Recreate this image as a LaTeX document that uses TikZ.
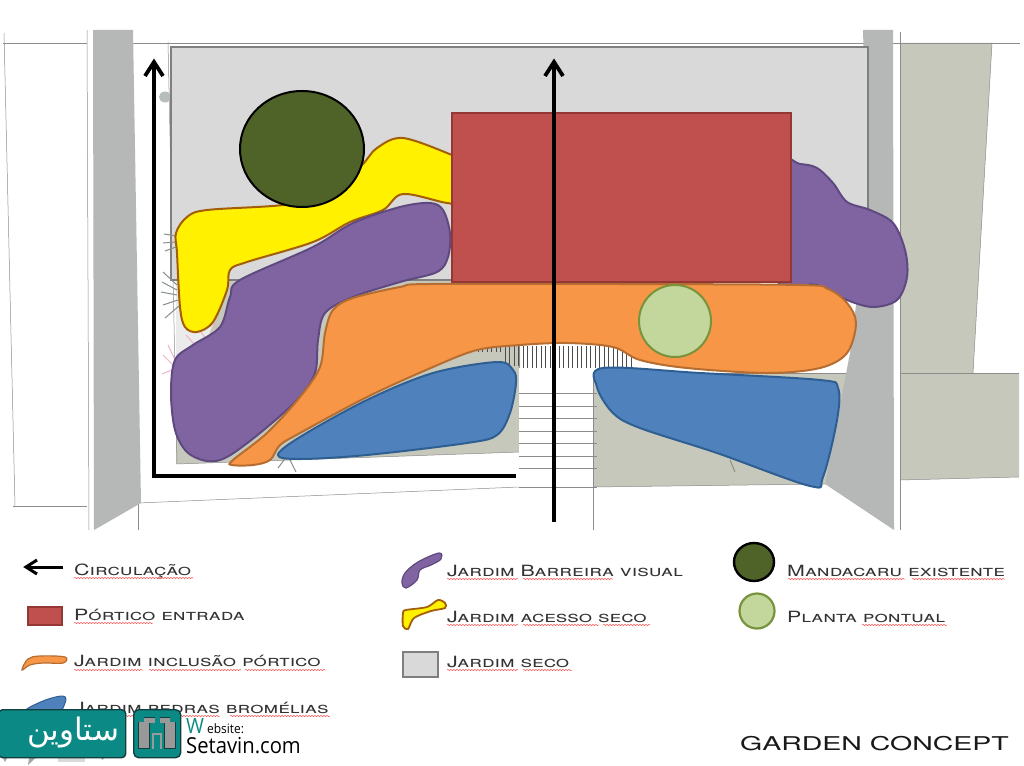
\documentclass[tikz,border=0pt]{standalone}
\usepackage{fontspec}
\usepackage{tikz}
\usetikzlibrary{decorations.pathmorphing}

\TeXXeTstate=1
\newfontfamily\arabicfont[Script=Arabic]{DejaVu Sans}
\newfontfamily\legendfont[Letters=SmallCaps,FakeStretch=1.38]{TeX Gyre Heros}
\newfontfamily\titlefont[FakeStretch=1.5]{TeX Gyre Heros}
\newfontfamily\markfont[FakeStretch=0.92]{Open Sans}

\definecolor{wallgray}{HTML}{B6B7B7}
\definecolor{sage}{HTML}{C5C8BB}
\definecolor{dryfill}{HTML}{D9D9D9}
\definecolor{dryline}{HTML}{7F7F7F}
\definecolor{redfill}{HTML}{C0504D}
\definecolor{redline}{HTML}{953735}
\definecolor{purplefill}{HTML}{8064A2}
\definecolor{purpleline}{HTML}{5F4A80}
\definecolor{yellowfill}{HTML}{FFF100}
\definecolor{yellowline}{HTML}{A35F08}
\definecolor{orangefill}{HTML}{F79646}
\definecolor{orangeline}{HTML}{B66D31}
\definecolor{bluefill}{HTML}{4F81BD}
\definecolor{blueline}{HTML}{2F5F92}
\definecolor{darkgreen}{HTML}{4F6228}
\definecolor{lightgreen}{HTML}{C3D69B}
\definecolor{lightgreenline}{HTML}{77933C}
\definecolor{markteal}{HTML}{0B8A85}
\definecolor{markline}{HTML}{123F3E}
\definecolor{plantgray}{HTML}{87918A}

\tikzset{
  sketch/.style={draw=black!45, line width=0.5pt},
  route/.style={line width=3.8pt},
  bed/.style={line width=2pt},
  legendtext/.style={anchor=base west, inner sep=0pt, text=black!80, font=\legendfont\fontsize{15.5}{15.5}\selectfont},
  spell/.style={draw=red!65, line width=0.5pt, decorate, decoration={snake,amplitude=0.7pt,segment length=3pt}},
  tuft/.style={draw=plantgray, line width=1pt},
  pinktuft/.style={draw=purple!30, line width=1pt},
  logoedge/.style={draw=markline, line width=11.4pt},
  logopart/.style={draw=black!40, line width=10pt},
}

\begin{document}
\begin{tikzpicture}[x=1pt,y=-1pt]
  \useasboundingbox[fill=white] (0,0) rectangle (1024,765);

  % ground
  \fill[sage] (900,43) -- (992,43) -- (973,373) -- (1019,373) -- (1019,477) -- (900,480) -- cycle;
  \fill[sage] (176,280) -- (520,280) -- (520,452) -- (176,464) -- cycle;
  \fill[sage] (593,373) -- (850,373) -- (825,484) -- (593,487) -- cycle;
  \fill[black!8] (176,280) -- (230,280) -- (205,345) -- (176,372) -- cycle;

  % sketch lines
  \draw[sketch] (3,43) -- (87,43);
  \draw[sketch] (4,33) -- (15,507);
  \draw[sketch] (13,506) -- (87,506);
  \draw[sketch] (87,30) -- (89,530);
  \draw[sketch] (130,43) -- (1020,43);
  \draw[sketch] (168,42) -- (177,464);
  \draw[sketch] (138,503) -- (519,487);
  \draw[sketch] (138,503) -- (138,530);
  \draw[sketch] (593,487) -- (825,484);
  \draw[sketch] (519,345) -- (519,530);
  \draw[sketch] (593,373) -- (593,530);
  \draw[sketch] (900,32) -- (900,530);
  \draw[sketch] (900,373) -- (1019,373);
  \draw[sketch] (900,480) -- (1019,477);
  \draw[sketch] (992,43) -- (973,373);
  \draw[sketch] (593,373) -- (850,373);
  \draw[sketch] (177,464) -- (520,452);

  % stairs
  \fill[white] (519,368) rectangle (593,530);
  \foreach \yy in {393,406,418,431,443,456,468,487} {
    \draw[sketch] (519,\yy) -- (597,\yy);
  }
  \foreach \xx in {478,482.5,...,632} {
    \draw[draw=black!70, line width=0.6pt] (\xx,346) -- (\xx,368);
  }
  \fill[sage] (476,352) -- (519,352) -- (519,368) -- (476,368) -- cycle;
  \foreach \xx in {505,509.5,...,519} {
    \draw[draw=black!70, line width=0.6pt] (\xx,346) -- (\xx,366);
  }

  % walls
  \fill[wallgray] (93,30) -- (133,30) -- (141,503) -- (94,530) -- cycle;
  \fill[wallgray] (863,30) -- (893,30) -- (894,530) -- (825,484) -- (850,353) -- (868,210) -- cycle;

  % dry garden
  \fill[plantgray!60] (165,97) ellipse (6pt and 5.5pt);
  \filldraw[fill=dryfill, draw=dryline, line width=1.8pt] (171,47) rectangle (868,280);

  % plants along the edge
  \draw[tuft] (177,285) -- (163,272);
  \draw[tuft] (177,290) -- (162,282);
  \draw[tuft] (177,295) -- (161,292);
  \draw[tuft] (178,300) -- (163,305);
  \draw[tuft] (179,306) -- (165,318);
  \draw[tuft] (176,236) -- (164,234);
  \draw[tuft] (176,242) -- (163,243);
  \draw[tuft] (176,247) -- (165,251);
  \draw[pinktuft] (176,362) -- (168,345);
  \draw[pinktuft] (174,366) -- (163,355);
  \draw[pinktuft] (172,370) -- (162,374);
  \draw[pinktuft] (195,345) -- (186,335);
  \draw[pinktuft] (205,338) -- (198,327);
  \draw[pinktuft] (215,330) -- (214,318);
  \draw[tuft] (290,452) -- (278,468);
  \draw[tuft] (290,460) -- (296,472);
  \draw[tuft] (730,460) -- (735,472);

  % beds
  \filldraw[fill=yellowfill, draw=yellowline, bed] plot[smooth cycle, tension=0.55] coordinates {
    (452,155) (403,138) (377,148) (362,165) (330,195) (283,205) (207,210) (187,217) (176,233) (177,253)
    (180,307) (185,327) (197,332) (213,322) (227,290) (230,270) (247,262) (313,242) (350,222) (383,210)
    (403,194) (447,203) (458,200) (460,160)};
  \filldraw[fill=purplefill, draw=purpleline, bed] plot[smooth cycle, tension=0.55] coordinates {
    (430,203) (443,210) (450,233) (448,257) (437,272) (400,282) (353,297) (325,313) (318,340) (315,373)
    (297,400) (260,433) (227,457) (207,461) (187,452) (175,430) (171,393) (175,360) (193,345) (220,327)
    (230,297) (240,280) (313,247) (353,223) (400,207)};
  \filldraw[fill=purplefill, draw=purpleline, bed] plot[smooth cycle, tension=0.55] coordinates {
    (775,163) (800,164) (817,168) (833,183) (847,202) (870,210) (893,223) (905,250) (907,277) (897,300) (873,307)
    (847,300) (817,285) (775,277)};
  \filldraw[fill=orangefill, draw=orangeline, bed] plot[smooth cycle, tension=0.55] coordinates {
    (430,284) (620,284) (800,285) (828,289) (847,303) (856,323) (847,353) (820,368) (767,373) (687,368) (640,360)
    (613,347) (567,343) (520,345) (477,350) (433,367) (367,397) (300,433) (280,445) (270,460) (253,465)
    (232,465) (233,460) (267,433) (300,397) (320,367) (325,333) (333,310) (353,298) (400,287)};
  \filldraw[fill=bluefill, draw=blueline, bed] plot[smooth cycle, tension=0.55] coordinates {
    (497,362) (513,370) (516,383) (510,413) (497,435) (467,443) (367,455) (300,459) (278,455) (300,437)
    (367,400) (433,373)};
  \filldraw[fill=bluefill, draw=blueline, bed] plot[smooth cycle, tension=0.55] coordinates {
    (603,368) (700,373) (820,380) (838,388) (837,420) (823,477) (810,486) (717,453) (640,428) (613,413)
    (597,387)};

  % portico and trees
  \filldraw[fill=redfill, draw=redline, line width=2pt] (452,113) rectangle (791,282);
  \filldraw[fill=darkgreen, draw=black, line width=2pt] (302,149) ellipse (62pt and 58pt);
  \filldraw[fill=lightgreen, draw=lightgreenline, line width=2pt] (675,321) circle (36pt);

  % circulation
  \coordinate (lefttop) at (154,62);
  \coordinate (corner) at (154,476);
  \coordinate (leftend) at (516,476);
  \coordinate (midstart) at (554,522);
  \coordinate (midtop) at (554,62);
  \draw[route] (leftend) -- (corner) -- (lefttop);
  \draw[route] (midstart) -- (midtop);
  \draw[route] (lefttop) ++(-9,14) -- ++(9,-14) -- ++(9,14);
  \draw[route] (midtop) ++(-9,14) -- ++(9,-14) -- ++(9,14);

  % legend, first column
  \coordinate (circstart) at (63,567);
  \coordinate (circtip) at (26,567);
  \draw[line width=3pt] (circstart) -- (circtip);
  \draw[line width=3pt] (circtip) ++(11,-7) -- ++(-11,7) -- ++(11,7);
  \node[legendtext] (lcirc) at (74,575) {Circulação};
  \draw[spell] (74,578) -- (193,578);

  \filldraw[fill=redfill, draw=redline, line width=1.4pt] (28,607) rectangle (62,625);
  \node[legendtext] (lport) at (74,620) {Pórtico entrada};
  \draw[spell] (74,623) -- (153,623);

  \filldraw[fill=orangefill, draw=orangeline, line width=1.2pt] plot[smooth cycle, tension=0.6] coordinates {
    (22,670) (28,659) (40,656) (65,657) (63,663) (43,663) (30,665)};
  \node[legendtext] (linc) at (74,666) {Jardim inclusão pórtico};
  \draw[spell] (74,670) -- (143,670);
  \draw[spell] (149,670) -- (241,670);
  \draw[spell] (245,670) -- (325,670);

  \filldraw[fill=bluefill, draw=blueline, line width=1pt] plot[smooth cycle, tension=0.6] coordinates {
    (25,712) (43,701) (63,696) (65,703) (55,716)};
  \node[legendtext] (lped) at (74,713) {Jardim pedras bromélias};
  \draw[spell] (74,716) -- (143,716);
  \draw[spell] (150,716) -- (220,716);
  \draw[spell] (230,716) -- (330,716);

  % legend, second column
  \filldraw[fill=purplefill, draw=purpleline, line width=1.2pt] plot[smooth cycle, tension=0.6] coordinates {
    (402,583) (405,573) (418,562) (439,553) (441,559) (431,565) (420,570) (417,580) (406,588)};
  \node[legendtext] (lbar) at (447,576) {Jardim Barreira visual};
  \draw[spell] (447,579) -- (518,579);
  \draw[spell] (523,579) -- (613,579);

  \filldraw[fill=yellowfill, draw=yellowline, line width=1.8pt] plot[smooth cycle, tension=0.5] coordinates {
    (403,613) (403,626) (408,629) (414,618) (431,611) (445,608) (445,603) (438,600) (427,607) (406,610)};
  \node[legendtext] (lace) at (447,622) {Jardim acesso seco};
  \draw[spell] (447,625) -- (518,625);
  \draw[spell] (523,625) -- (599,625);
  \draw[spell] (603,625) -- (650,625);

  \filldraw[fill=dryfill, draw=dryline, line width=2pt] (403,652) rectangle (438,677);
  \node[legendtext] (lsec) at (447,667) {Jardim seco};
  \draw[spell] (447,670) -- (518,670);
  \draw[spell] (523,670) -- (572,670);

  % legend, third column
  \filldraw[fill=darkgreen, draw=black, line width=2.4pt] (754,562) ellipse (20pt and 19pt);
  \node[legendtext] (lman) at (787,576) {Mandacaru existente};
  \draw[spell] (788,579) -- (905,579);
  \draw[spell] (912,579) -- (1005,579);

  \filldraw[fill=lightgreen, draw=lightgreenline, line width=2.2pt] (757,611) circle (17.5pt);
  \node[legendtext] (lpla) at (787,622) {Planta pontual};
  \draw[spell] (862,625) -- (947,625);

  \node[anchor=base east, inner sep=0pt, text=black!90, font=\titlefont\fontsize{19}{19}\selectfont] (title) at (1009,750) {GARDEN CONCEPT};

  % watermark
  \fill[black!15] (58,752) rectangle (85,762);
  \fill[black!35] (0,752) -- (10,752) -- (5,762) -- cycle;
  \fill[black!35] (30,752) -- (42,752) -- (28,765) -- cycle;
  \fill[black!35] (100,752) -- (112,752) -- (102,760) -- cycle;
  \node[draw=markline, fill=markteal, rounded corners=4pt, line width=1.4pt, minimum width=127pt, minimum height=48pt, anchor=north west, inner sep=0pt] (markbox) at (-2,709) {};
  \node[text=white, font=\arabicfont\fontsize{31}{31}\selectfont, inner sep=0pt] (markname) at ([xshift=11pt,yshift=1pt]markbox.center) {\beginR ستاوین\endR};
  \node[draw=markline, fill=markteal, rounded corners=5pt, line width=1.4pt, minimum width=47pt, minimum height=48pt, anchor=north west, inner sep=0pt] (logo) at (133,709) {};
  \draw[logoedge, line width=6pt] (144,720) -- (155,720);
  \draw[logoedge, line width=6pt] (170,720) -- (160,720);
  \draw[logoedge] (144,749) -- (144,722);
  \draw[logoedge] (170,749) -- (170,722);
  \draw[logopart] (144,748) -- (144,722);
  \draw[logopart] (170,748) -- (170,722);
  \draw[logopart, line width=5pt] (144,720) -- (155,720);
  \draw[logopart, line width=5pt] (170,720) -- (160,720);
  \draw[logopart, line width=2.5pt] (153,749) -- (153,734) -- (161,734) -- (161,749);
  \node[anchor=base west, inner sep=0pt, text=markteal, font=\markfont\fontsize{21}{21}\selectfont] (markw) at (186,733) {W};
  \node[anchor=base west, inner sep=0pt, font=\markfont\fontsize{13}{13}\selectfont] (markweb) at (207,733) {ebsite:};
  \node[anchor=base west, inner sep=0pt, font=\markfont\fontsize{22}{22}\selectfont] (markcom) at (186,753) {Setavin.com};
\end{tikzpicture}
\end{document}
